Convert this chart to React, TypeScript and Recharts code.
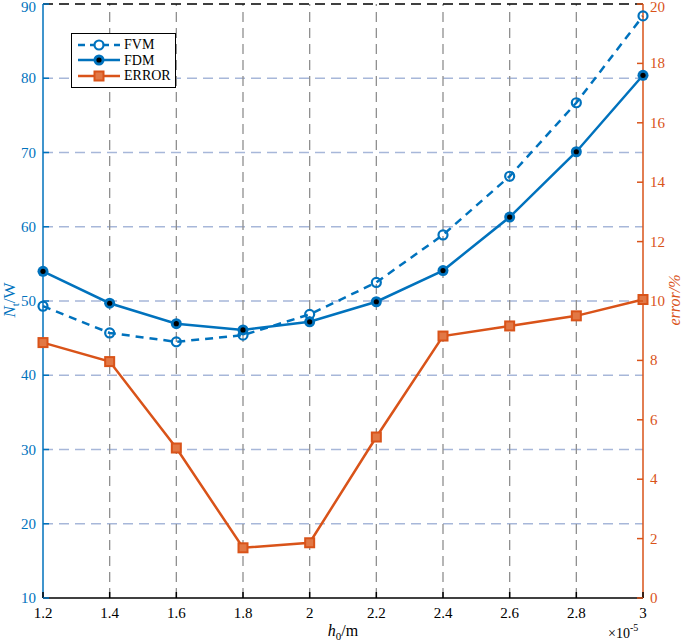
import React from "react";
import { LineChart, Line, XAxis, YAxis, ReferenceLine } from "recharts";

const hValues = [1.2, 1.4, 1.6, 1.8, 2.0, 2.2, 2.4, 2.6, 2.8, 3.0];
const fvmValues = [49.3, 45.7, 44.5, 45.4, 48.2, 52.5, 58.9, 66.8, 76.7, 88.4];
const fdmValues = [54.0, 49.7, 46.95, 46.1, 47.2, 49.9, 54.1, 61.3, 70.1, 80.4];
const errorValues = [8.6, 7.96, 5.05, 1.69, 1.86, 5.42, 8.82, 9.16, 9.5, 10.05];

const xTicks = [1.2, 1.4, 1.6, 1.8, 2, 2.2, 2.4, 2.6, 2.8, 3];
const leftTicks = [10, 20, 30, 40, 50, 60, 70, 80, 90];
const rightTicks = [0, 2, 4, 6, 8, 10, 12, 14, 16, 18, 20];

const BLUE = "#0072BD";
const ORANGE = "#D95319";
const FONT = "'Liberation Serif', 'Times New Roman', serif";

const data = hValues.map((h, i) => ({
  h,
  fvm: fvmValues[i],
  fdm: fdmValues[i],
  err: errorValues[i],
}));

const XTick = (props: any) => {
  const { x, y, payload } = props;
  return (
    <g>
      <line x1={x} y1={y} x2={x} y2={y - 6} stroke="#000" strokeWidth={1.5} />
      <text x={x} y={y + 20} textAnchor="middle" fontFamily={FONT} fontSize={15} fill="#000">
        {String(payload.value)}
      </text>
    </g>
  );
};

const LeftTick = (props: any) => {
  const { x, y, payload } = props;
  return (
    <g>
      <line x1={x} y1={y} x2={x + 6} y2={y} stroke={BLUE} strokeWidth={1.5} />
      <text x={x - 7} y={Math.max(y + 5, 12)} textAnchor="end" fontFamily={FONT} fontSize={15} fill={BLUE}>
        {payload.value}
      </text>
    </g>
  );
};

const RightTick = (props: any) => {
  const { x, y, payload } = props;
  return (
    <g>
      <line x1={x} y1={y} x2={x - 6} y2={y} stroke={ORANGE} strokeWidth={1.5} />
      <text x={x + 7} y={Math.max(y + 5, 12)} textAnchor="start" fontFamily={FONT} fontSize={15} fill={ORANGE}>
        {payload.value}
      </text>
    </g>
  );
};

const OpenDot = (props: any) => {
  const { cx, cy } = props;
  return <circle cx={cx} cy={cy} r={4.5} fill="none" stroke={BLUE} strokeWidth={2.2} />;
};

const FilledDot = (props: any) => {
  const { cx, cy } = props;
  return (
    <g>
      <circle cx={cx} cy={cy} r={5.5} fill={BLUE} />
      <circle cx={cx} cy={cy} r={2.6} fill="#000" />
    </g>
  );
};

const SquareDot = (props: any) => {
  const { cx, cy } = props;
  return (
    <rect x={cx - 4.5} y={cy - 4.5} width={9} height={9} fill="#E27845" stroke={ORANGE} strokeWidth={2} />
  );
};

const LegendBox = () => {
  const row = (label: string, color: string, dashed: boolean, marker: React.ReactNode) => (
    <div style={{ display: "flex", alignItems: "center", height: 15.5 }}>
      <svg width={46} height={14} style={{ display: "block" }}>
        <line x1={2} y1={7} x2={44} y2={7} stroke={color} strokeWidth={2.5} strokeDasharray={dashed ? "7 5" : undefined} />
        {marker}
      </svg>
      <span style={{ marginLeft: 2 }}>{label}</span>
    </div>
  );
  return (
    <div
      style={{
        position: "absolute",
        left: 71,
        top: 33,
        border: "1px solid #000",
        background: "#fff",
        width: 105,
        padding: "3px 0 3px 4px",
        fontFamily: FONT,
        fontSize: 14,
        color: "#000",
        lineHeight: "15px",
        boxSizing: "border-box",
      }}
    >
      {row("FVM", BLUE, true, <circle cx={23} cy={7} r={4.5} fill="#fff" stroke={BLUE} strokeWidth={2.2} />)}
      {row(
        "FDM",
        BLUE,
        false,
        <g>
          <circle cx={23} cy={7} r={5.5} fill={BLUE} />
          <circle cx={23} cy={7} r={2.6} fill="#000" />
        </g>
      )}
      {row("ERROR", ORANGE, false, <rect x={18.5} y={2.5} width={9} height={9} fill="#E27845" stroke={ORANGE} strokeWidth={2} />)}
    </div>
  );
};

export default function App() {
  return (
    <div style={{ position: "absolute", left: 0, top: 0, width: 685, height: 642, background: "#fff" }}>
      <LineChart width={685} height={642} data={data} margin={{ top: 4, right: 0, bottom: 0, left: 0 }}>
        <XAxis
          dataKey="h"
          type="number"
          domain={[1.2, 3]}
          ticks={xTicks}
          axisLine={{ stroke: "#000", strokeWidth: 1.5 }}
          tickLine={false}
          tickSize={0}
          tickMargin={0}
          tick={<XTick />}
          height={44}
          interval={0}
        />
        <YAxis
          yAxisId="left"
          orientation="left"
          domain={[10, 90]}
          ticks={leftTicks}
          width={43}
          axisLine={{ stroke: BLUE, strokeWidth: 1.5 }}
          tickLine={false}
          tickSize={0}
          tickMargin={0}
          tick={<LeftTick />}
          interval={0}
        />
        <YAxis
          yAxisId="right"
          orientation="right"
          domain={[0, 20]}
          ticks={rightTicks}
          width={42}
          axisLine={{ stroke: ORANGE, strokeWidth: 1.5 }}
          tickLine={false}
          tickSize={0}
          tickMargin={0}
          tick={<RightTick />}
          interval={0}
        />
        {leftTicks.slice(1, -1).map((v) => (
          <ReferenceLine key={"h" + v} yAxisId="left" y={v} stroke="#a7b7d9" strokeWidth={1.3} strokeDasharray="10 6" />
        ))}
        {xTicks.slice(1, -1).map((v) => (
          <ReferenceLine key={"v" + v} yAxisId="left" x={v} stroke="#8f8f8f" strokeWidth={1.3} strokeDasharray="10 6" />
        ))}
        <ReferenceLine yAxisId="left" y={90} stroke="#000" strokeWidth={1.3} strokeDasharray="10 6" />
        <Line
          yAxisId="left"
          dataKey="fvm"
          stroke={BLUE}
          strokeWidth={2.5}
          strokeDasharray="8 6"
          dot={<OpenDot />}
          isAnimationActive={false}
        />
        <Line
          yAxisId="left"
          dataKey="fdm"
          stroke={BLUE}
          strokeWidth={2.5}
          dot={<FilledDot />}
          isAnimationActive={false}
        />
        <Line
          yAxisId="right"
          dataKey="err"
          stroke={ORANGE}
          strokeWidth={2.5}
          dot={<SquareDot />}
          isAnimationActive={false}
        />
        <text x={343} y={636} textAnchor="middle" fontFamily={FONT} fontSize={16} fill="#000">
          <tspan fontStyle="italic">h</tspan>
          <tspan fontSize={11} dy={4}>0</tspan>
          <tspan dy={-4}>/m</tspan>
        </text>
        <text x={608} y={638} fontFamily={FONT} fontSize={14} fill="#000">
          ×10<tspan fontSize={10} dy={-7}>-5</tspan>
        </text>
        <text
          transform="translate(15,300) rotate(-90)"
          textAnchor="middle"
          fontFamily={FONT}
          fontSize={17}
          fill={BLUE}
        >
          <tspan fontStyle="italic">N</tspan>
          <tspan fontSize={11} dy={4}>t</tspan>
          <tspan dy={-4}>/W</tspan>
        </text>
        <text
          transform="translate(680,300) rotate(-90)"
          textAnchor="middle"
          fontFamily={FONT}
          fontSize={16}
          fontStyle="italic"
          fill={ORANGE}
        >
          error/%
        </text>
      </LineChart>
      <LegendBox />
    </div>
  );
}
